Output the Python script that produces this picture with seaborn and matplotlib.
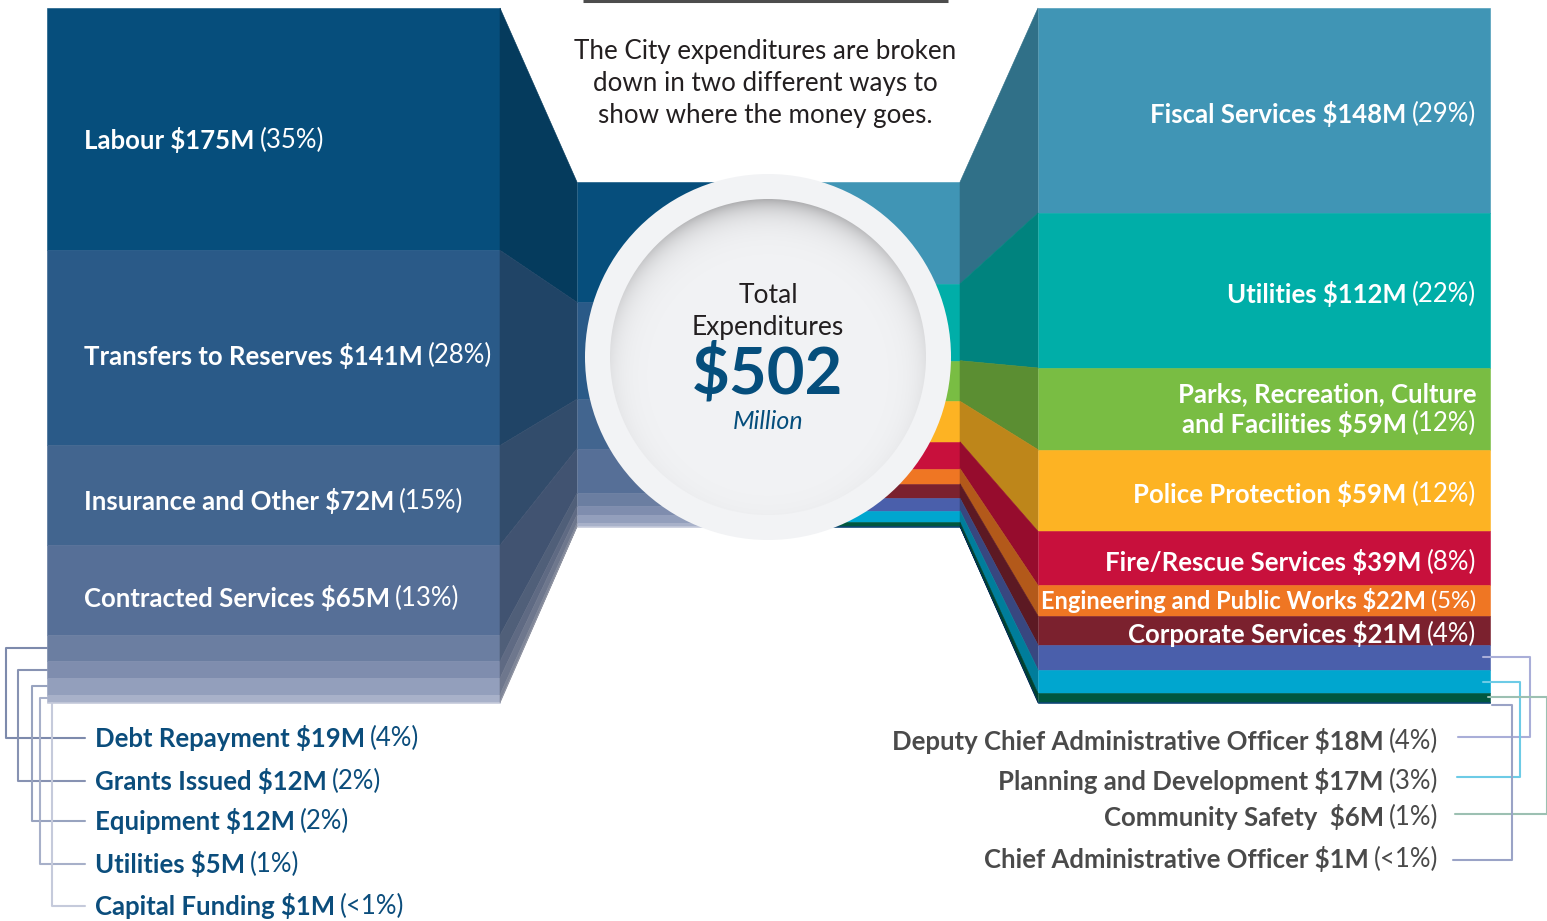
import numpy as np
import seaborn as sns
import matplotlib.pyplot as plt
from matplotlib.patches import Circle, Polygon
from matplotlib.colors import to_rgb

# --- data (millions) ---
TOTAL = 502

left_names = ["Labour", "Transfers to Reserves", "Insurance and Other", "Contracted Services",
              "Debt Repayment", "Grants Issued", "Equipment", "Utilities", "Capital Funding"]
left_values = [175, 141, 72, 65, 19, 12, 12, 5, 1]
left_pcts = ["35%", "28%", "15%", "13%", "4%", "2%", "2%", "1%", "<1%"]
left_colors = ["#064e7c", "#2a5a88", "#42658f", "#566f97", "#6b7ea1",
               "#7f8dae", "#939fbc", "#a8b1c9", "#c1c7d9"]

right_names = ["Fiscal Services", "Utilities", "Parks, Recreation, Culture\nand Facilities",
               "Police Protection", "Fire/Rescue Services", "Engineering and Public Works",
               "Corporate Services", "Deputy Chief Administrative Officer",
               "Planning and Development", "Community Safety ", "Chief Administrative Officer"]
right_values = [148, 112, 59, 59, 39, 22, 21, 18, 17, 6, 1]
right_pcts = ["29%", "22%", "12%", "12%", "8%", "5%", "4%", "4%", "3%", "1%", "<1%"]
right_colors = ["#4095b5", "#00aea8", "#79bd43", "#fdb323", "#c8103c", "#ef7623",
                "#7b212e", "#4a5fab", "#00a6cf", "#00573f", "#003b6e"]

intro_lines = ["The City expenditures are broken", "down in two different ways to",
               "show where the money goes."]

# --- layout ---
sns.set_theme(style="white")
plt.rcParams["font.family"] = ["Lato", "DejaVu Sans"]

W, H = 1547, 921
fig = plt.figure(figsize=(W / 100, H / 100), dpi=100)
ax = fig.add_axes([0, 0, 1, 1])
ax.set_xlim(0, W)
ax.set_ylim(H, 0)
ax.axis("off")

COL_TOP, COL_BOT = 8, 703
BAND_TOP, BAND_BOT = 182, 527
k_col = (COL_BOT - COL_TOP) / TOTAL
k_band = (BAND_BOT - BAND_TOP) / TOTAL
CX, CY = 768, 357
FS = 18.5


def darker(c, f=0.75):
    r, g, b = to_rgb(c)
    return (r * f, g * f, b * f)


def draw_side(values, colors, col_x0, col_x1, band_x0, band_x1, col_edge, band_edge):
    v = np.array(values, float)
    starts = np.concatenate([[0], np.cumsum(v)[:-1]])
    col_top, col_h = COL_TOP + starts * k_col, v * k_col
    band_top, band_h = BAND_TOP + starts * k_band, v * k_band
    ax.bar(col_x0, col_h, bottom=col_top, width=col_x1 - col_x0, align="edge",
           color=colors, edgecolor=colors, linewidth=0.4, zorder=2)
    ax.bar(band_x0, band_h, bottom=band_top, width=band_x1 - band_x0, align="edge",
           color=colors, edgecolor=colors, linewidth=0.4, zorder=1)
    # slanted "3D" faces joining the column to the central band
    for i, c in enumerate(colors):
        pts = [(col_edge, col_top[i]), (band_edge, band_top[i]),
               (band_edge, band_top[i] + band_h[i]), (col_edge, col_top[i] + col_h[i])]
        ax.add_patch(Polygon(pts, closed=True, facecolor=darker(c), edgecolor=darker(c),
                             linewidth=0.4, zorder=2))
    return col_top, col_h


l_top, l_h = draw_side(left_values, left_colors, 47, 500, 577, CX, 500, 577)
r_top, r_h = draw_side(right_values, right_colors, 1038, 1490, CX, 960, 1038, 960)
l_mid = l_top + l_h / 2
r_mid = r_top + r_h / 2

# --- centre disc ---
ax.add_patch(Circle((CX, CY), 183, facecolor="#f2f3f5", edgecolor="none", zorder=5))
R_IN = 158
yy, xx = np.mgrid[-R_IN:R_IN, -R_IN:R_IN] + 0.5
s = 18
inside = R_IN + s - np.hypot(xx, yy - s)
sh = np.exp(-np.clip(inside, 0, None) / 13.0)
base = np.array([242, 243, 245]) / 255
dark = np.array([172, 172, 174]) / 255
img = base[None, None, :] - sh[..., None] * (base - dark)[None, None, :]
im = ax.imshow(img, extent=(CX - R_IN, CX + R_IN, CY + R_IN, CY - R_IN), origin="upper",
               zorder=6, aspect="auto", interpolation="bilinear")
im.set_clip_path(Circle((CX, CY), R_IN, transform=ax.transData))
ax.set_xlim(0, W)
ax.set_ylim(H, 0)

ax.text(CX, 295, "Total", ha="center", va="center", fontsize=19, color="#231f20", zorder=7)
ax.text(CX, 327, "Expenditures", ha="center", va="center", fontsize=19, color="#231f20", zorder=7)
ax.text(CX, 374, f"${TOTAL}", ha="center", va="center", fontsize=47, fontweight="bold",
        color="#054e7c", zorder=7)
ax.text(CX, 421, "Million", ha="center", va="center", fontsize=18, style="italic",
        color="#054e7c", zorder=7)

# --- intro ---
ax.plot([583, 948], [1.5, 1.5], color="#4d4d4d", lw=2.2, solid_capstyle="butt")
for i, line in enumerate(intro_lines):
    ax.text(765, 52 + 32 * i, line, ha="center", va="center", fontsize=18.7, color="#231f20")

# --- labels ---
renderer = fig.canvas.get_renderer()
GAP = 5


def label(x, y, bold, regular, color, ha, size=FS):
    if ha == "left":
        t = ax.text(x, y, bold, ha="left", va="center", fontsize=size, fontweight="bold",
                    color=color, zorder=8)
        w = t.get_window_extent(renderer).width
        ax.text(x + w + GAP, y, regular, ha="left", va="center", fontsize=size,
                color=color, zorder=8)
    else:
        t = ax.text(x, y, regular, ha="right", va="center", fontsize=size,
                    color=color, zorder=8)
        w = t.get_window_extent(renderer).width
        ax.text(x - w - GAP, y, bold, ha="right", va="center", fontsize=size,
                fontweight="bold", color=color, zorder=8)


for i in range(4):
    off = 11 if i == 0 else (6 if i == 2 else 8)
    label(84, l_mid[i] + off, f"{left_names[i]} ${left_values[i]}M", f"({left_pcts[i]})",
          "white", "left")

for i in range(7):
    name = right_names[i]
    size = 17 if i == 5 else FS
    y = r_mid[i] + (0 if i == 5 else 4)
    if "\n" in name:
        first, last = name.split("\n")
        ax.text(1476, r_mid[i] - 15, first, ha="right", va="center", fontsize=size,
                fontweight="bold", color="white", zorder=8)
        label(1476, r_mid[i] + 15, f"{last} ${right_values[i]}M", f"({right_pcts[i]})",
              "white", "right", size)
    else:
        label(1476, y, f"{name} ${right_values[i]}M", f"({right_pcts[i]})", "white",
              "right", size)

# small left categories with bracket leaders
left_label_y = [738, 781, 821, 864, 906]
left_lead_x = [6, 18, 32, 40, 52]
left_lead_c = ["#7d8aac", "#8792b2", "#98a3bf", "#a7b0c9", "#c5cadb"]
for j, i in enumerate(range(4, 9)):
    y0 = l_mid[i] if i < 8 else COL_BOT
    if i < 8:
        xs = [47, left_lead_x[j], left_lead_x[j], 85]
        ys = [y0, y0, left_label_y[j], left_label_y[j]]
    else:
        xs = [left_lead_x[j], left_lead_x[j], 85]
        ys = [y0, left_label_y[j], left_label_y[j]]
    ax.plot(xs, ys, color=left_lead_c[j], lw=1.5, zorder=3)
    label(95, left_label_y[j], f"{left_names[i]} ${left_values[i]}M", f"({left_pcts[i]})",
          "#0b4d7c", "left")

# small right categories with bracket leaders
right_label_y = [741, 781, 817, 859]
right_lead = [(1483, 1530, 737, 1458), (1483, 1520, 777, 1457),
              (1488, 1547, 814, 1455), (1492, 1512, 860, 1453)]
right_lead_c = ["#a9aed8", "#6dcbe6", "#9cc0b2", "#9aa3c6"]
for j, i in enumerate(range(7, 11)):
    x0, xc, yl, x1 = right_lead[j]
    y0 = r_mid[i] if i < 10 else COL_BOT + 2
    ax.plot([x0, xc, xc, x1], [y0, y0, yl, yl], color=right_lead_c[j], lw=1.5, zorder=3)
    label(1438, right_label_y[j], f"{right_names[i]} ${right_values[i]}M",
          f"({right_pcts[i]})", "#4a4a4a", "right")

fig.savefig("out.png", dpi=100)
